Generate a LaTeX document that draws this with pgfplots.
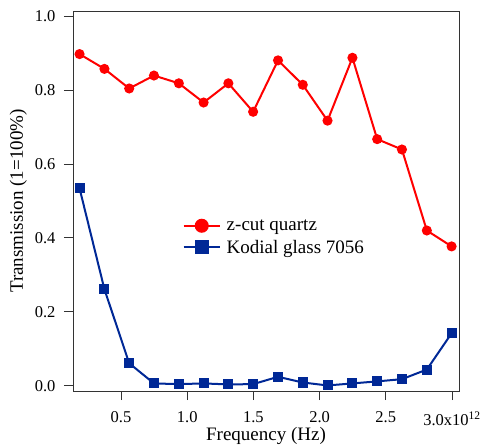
\documentclass[border=0pt]{standalone}
\usepackage{fontspec}
\setmainfont{Liberation Serif}
\usepackage{pgfplots}
\pgfplotsset{compat=1.18}
\definecolor{zred}{RGB}{255,0,0}
\definecolor{kblue}{RGB}{0,40,150}
\pgfplotsset{biglegend/.style={legend image code/.code={%
  \draw[##1] (0pt,0pt) -- (36pt,0pt);
  \draw[##1, mark size=6pt] plot coordinates {(18pt,0pt)};}}}
\begin{document}
\begin{tikzpicture}
\useasboundingbox (-73pt,-54pt) rectangle (408pt,391pt);
\begin{axis}[
  at={(0,0)}, anchor=south west,
  scale only axis, width=386pt, height=380pt,
  xmin=0.1375, xmax=3.053, ymin=-0.014, ymax=1.0135,
  xtick={0.5,1,1.5,2,2.5,3},
  xticklabels={0.5,1.0,1.5,2.0,2.5,3.0x10\textsuperscript{12}},
  ytick={0,0.2,0.4,0.6,0.8,1.0},
  yticklabels={0.0,0.2,0.4,0.6,0.8,1.0},
  tick align=outside, xtick pos=left, ytick pos=left,
  major tick length=9pt,
  tick style={line width=0.8pt, black!80},
  axis line style={line width=0.8pt, black!80},
  tick label style={font=\fontsize{16.5}{19}\selectfont},
  xticklabel style={yshift=-8pt, text depth=0pt},
  yticklabel style={xshift=-5pt},
  label style={font=\fontsize{19}{22}\selectfont},
  xlabel={Frequency (Hz)},
  ylabel={Transmission (1=100\%)},
  xlabel style={at={(axis description cs:0.5,-0.129)}, anchor=base, text height=13pt},
  ylabel style={at={(axis description cs:-0.142,0.5)}, anchor=center},
  legend style={at={(axis description cs:0.276,0.462)}, anchor=north west, draw=none, fill=none,
    font=\fontsize{19}{22}\selectfont, row sep=4pt},
  legend cell align=left,
]
\addplot[zred, line width=2pt, mark=*, mark size=4pt, mark options={solid}, biglegend]
coordinates {
(0.187,0.897) (0.375,0.857) (0.562,0.804) (0.749,0.839) (0.937,0.818) (1.124,0.766)
(1.311,0.818) (1.498,0.741) (1.686,0.880) (1.873,0.814) (2.060,0.717) (2.248,0.887)
(2.435,0.667) (2.622,0.639) (2.810,0.420) (2.997,0.377)
};
\addlegendentry{\hspace{4pt}z-cut quartz}
\addplot[kblue, line width=2pt, mark=square*, mark size=4pt, mark options={solid}, biglegend]
coordinates {
(0.187,0.534) (0.375,0.261) (0.562,0.061) (0.749,0.0065) (0.937,0.0046) (1.124,0.0065)
(1.311,0.0038) (1.498,0.0046) (1.686,0.0244) (1.873,0.009) (2.060,0.001) (2.248,0.0065)
(2.435,0.012) (2.622,0.018) (2.810,0.044) (2.997,0.142)
};
\addlegendentry{\hspace{4pt}Kodial glass 7056}
\end{axis}
\end{tikzpicture}
\end{document}
